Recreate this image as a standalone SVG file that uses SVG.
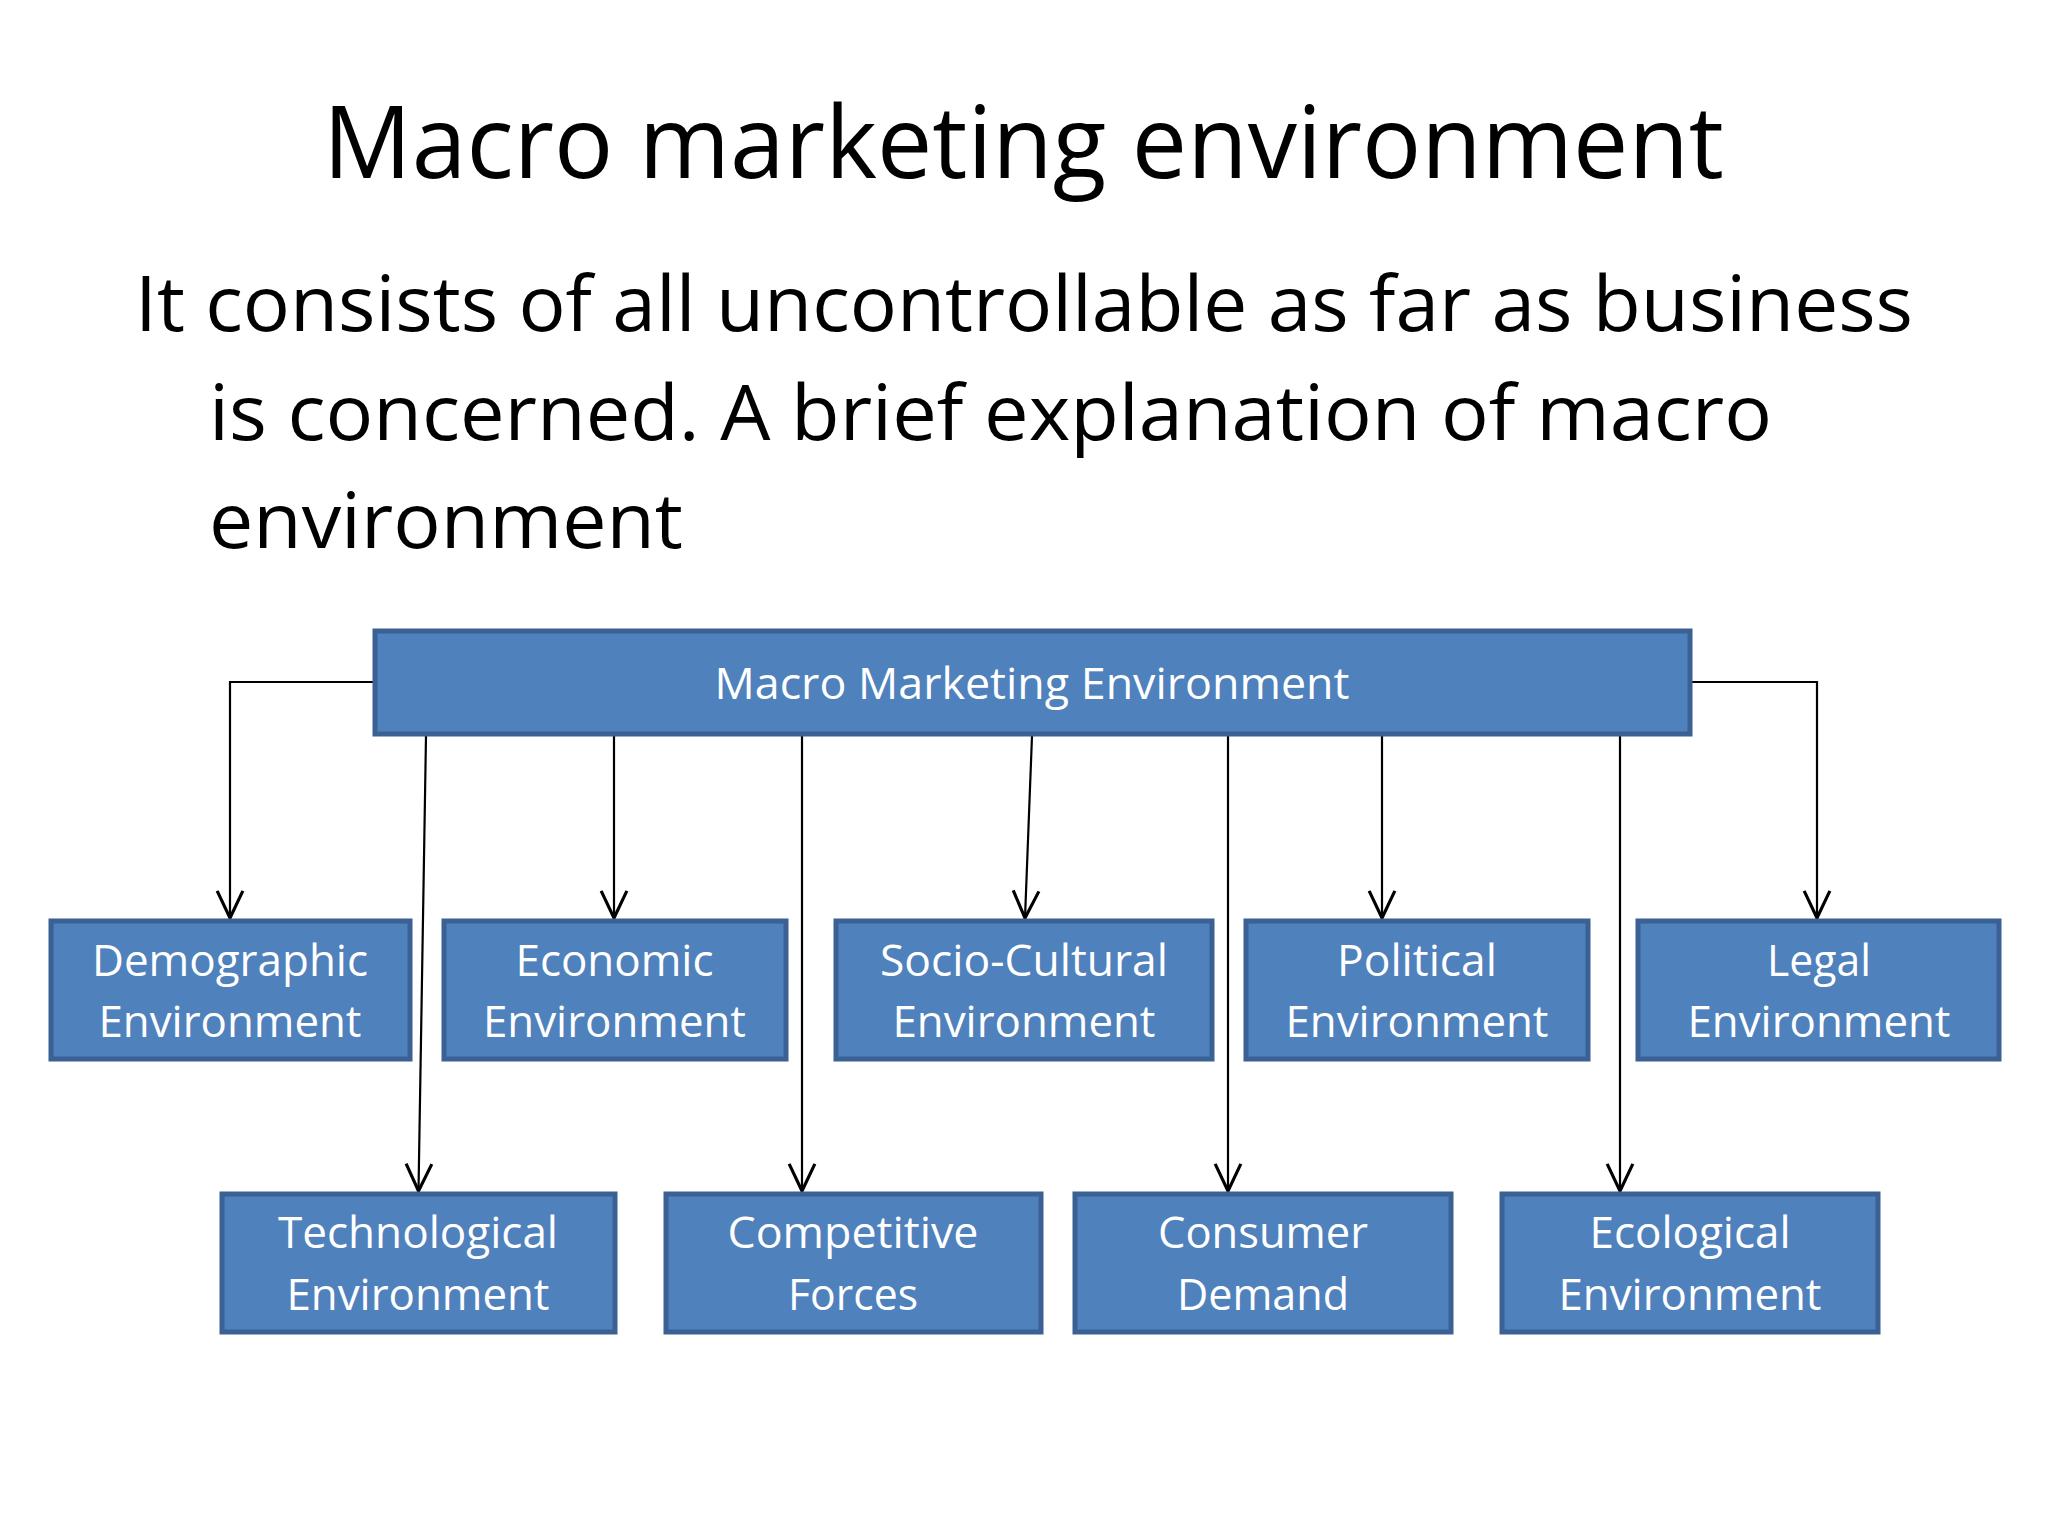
<svg xmlns="http://www.w3.org/2000/svg" width="2048" height="1536" viewBox="0 0 2048 1536">
<style>
.box{fill:#4F81BD;stroke:#3B6194;stroke-width:5}
.lbl{font-family:"Open Sans","Liberation Sans",sans-serif;font-size:43px;fill:#FFFFFF;text-anchor:middle}
.hd{font-family:"Open Sans","Liberation Sans",sans-serif;fill:#000000}
.cn{fill:none;stroke:#000000;stroke-width:2.2}
</style>
<defs>
<marker id="arr" markerUnits="userSpaceOnUse" markerWidth="40" markerHeight="40" refX="0" refY="0" orient="auto" viewBox="-22 -14 24 28" overflow="visible">
<path d="M-19,-9 L0,0 L-19,9" fill="none" stroke="#000000" stroke-width="2.2"/>
</marker>
</defs>
<rect width="2048" height="1536" fill="#FFFFFF"/>
<text class="hd" x="323" y="178" font-size="100" textLength="1401" lengthAdjust="spacingAndGlyphs">Macro marketing environment</text>
<text class="hd" x="135" y="331" font-size="76" textLength="1778" lengthAdjust="spacingAndGlyphs">It consists of all uncontrollable as far as business</text>
<text class="hd" x="209" y="440" font-size="76" textLength="1563" lengthAdjust="spacingAndGlyphs">is concerned. A brief explanation of macro</text>
<text class="hd" x="209" y="548" font-size="76" textLength="474" lengthAdjust="spacingAndGlyphs">environment</text>
<g id="connectors">
<path class="cn" d="M375,682 H230 V918" marker-end="url(#arr)"/>
<path class="cn" d="M614,736 V918" marker-end="url(#arr)"/>
<path class="cn" d="M1032,736 L1025,918" marker-end="url(#arr)"/>
<path class="cn" d="M1382,736 V918" marker-end="url(#arr)"/>
<path class="cn" d="M1691,682 H1817 V918" marker-end="url(#arr)"/>
<path class="cn" d="M426,736 L418.5,1191" marker-end="url(#arr)"/>
<path class="cn" d="M802,736 V1191" marker-end="url(#arr)"/>
<path class="cn" d="M1228,736 V1191" marker-end="url(#arr)"/>
<path class="cn" d="M1620,736 V1191" marker-end="url(#arr)"/>
</g>
<g id="macro">
<rect class="box" x="375" y="631" width="1315" height="103"/>
<text class="lbl" x="1032" y="699" textLength="635" lengthAdjust="spacingAndGlyphs">Macro Marketing Environment</text>
</g>
<g id="demographic">
<rect class="box" x="51" y="921" width="359" height="138"/>
<text class="lbl" x="230" y="976" textLength="276" lengthAdjust="spacingAndGlyphs">Demographic</text>
<text class="lbl" x="230" y="1037" textLength="263" lengthAdjust="spacingAndGlyphs">Environment</text>
</g>
<g id="economic">
<rect class="box" x="444" y="921" width="342" height="138"/>
<text class="lbl" x="614.5" y="976" textLength="198" lengthAdjust="spacingAndGlyphs">Economic</text>
<text class="lbl" x="614.5" y="1037" textLength="263" lengthAdjust="spacingAndGlyphs">Environment</text>
</g>
<g id="sociocultural">
<rect class="box" x="836" y="921" width="376" height="138"/>
<text class="lbl" x="1024" y="976" textLength="288" lengthAdjust="spacingAndGlyphs">Socio-Cultural</text>
<text class="lbl" x="1024" y="1037" textLength="263" lengthAdjust="spacingAndGlyphs">Environment</text>
</g>
<g id="political">
<rect class="box" x="1246" y="921" width="342" height="138"/>
<text class="lbl" x="1417" y="976" textLength="160" lengthAdjust="spacingAndGlyphs">Political</text>
<text class="lbl" x="1417" y="1037" textLength="263" lengthAdjust="spacingAndGlyphs">Environment</text>
</g>
<g id="legal">
<rect class="box" x="1638" y="921" width="361" height="138"/>
<text class="lbl" x="1819" y="976" textLength="104" lengthAdjust="spacingAndGlyphs">Legal</text>
<text class="lbl" x="1819" y="1037" textLength="263" lengthAdjust="spacingAndGlyphs">Environment</text>
</g>
<g id="technological">
<rect class="box" x="222" y="1194" width="393" height="138"/>
<text class="lbl" x="418" y="1248" textLength="280" lengthAdjust="spacingAndGlyphs">Technological</text>
<text class="lbl" x="418" y="1310" textLength="263" lengthAdjust="spacingAndGlyphs">Environment</text>
</g>
<g id="competitive">
<rect class="box" x="666" y="1194" width="375" height="138"/>
<text class="lbl" x="853" y="1248" textLength="251" lengthAdjust="spacingAndGlyphs">Competitive</text>
<text class="lbl" x="853" y="1310" textLength="130" lengthAdjust="spacingAndGlyphs">Forces</text>
</g>
<g id="consumer">
<rect class="box" x="1075" y="1194" width="376" height="138"/>
<text class="lbl" x="1263" y="1248" textLength="210" lengthAdjust="spacingAndGlyphs">Consumer</text>
<text class="lbl" x="1263" y="1310" textLength="172" lengthAdjust="spacingAndGlyphs">Demand</text>
</g>
<g id="ecological">
<rect class="box" x="1502" y="1194" width="376" height="138"/>
<text class="lbl" x="1690" y="1248" textLength="201" lengthAdjust="spacingAndGlyphs">Ecological</text>
<text class="lbl" x="1690" y="1310" textLength="263" lengthAdjust="spacingAndGlyphs">Environment</text>
</g>
</svg>
